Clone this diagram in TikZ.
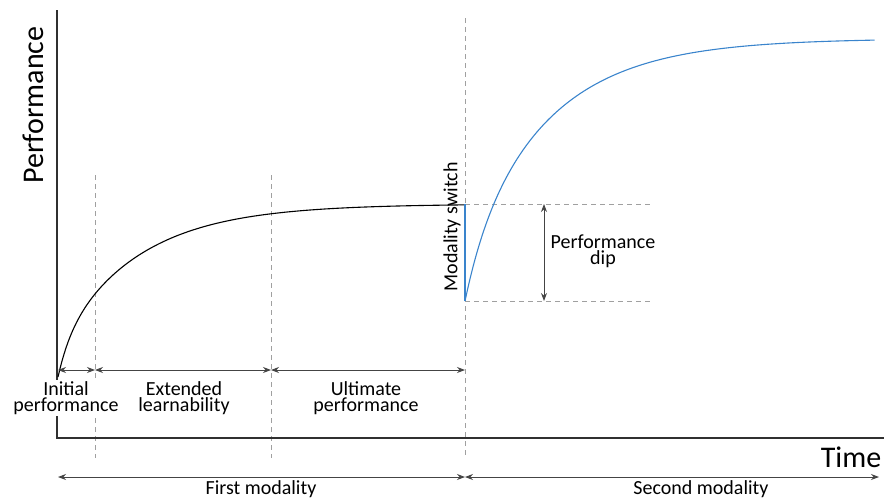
\documentclass[tikz,border=0pt]{standalone}
\usepackage{fontspec}
\setmainfont{Carlito}
\usetikzlibrary{arrows.meta}
\definecolor{axisgray}{HTML}{303030}
\definecolor{arrgray}{HTML}{444444}
\definecolor{dashgray}{HTML}{A0A0A0}
\definecolor{curveblue}{HTML}{3A84CC}
\tikzset{
  axisline/.style={draw=axisgray, line width=1.1pt},
  guide/.style={draw=dashgray, dashed, dash pattern=on 5pt off 4pt, line width=0.9pt},
  dimarrow/.style={draw=arrgray, line width=0.9pt, {Stealth[length=8pt,width=6pt]}-{Stealth[length=8pt,width=6pt]}},
  lbl/.style={font=\fontsize{20}{16.5}\selectfont, align=center, inner sep=1pt},
  big/.style={font=\fontsize{30}{30}\selectfont, inner sep=0pt},
}
\begin{document}
\begin{tikzpicture}[x=1pt,y=-1pt]
\useasboundingbox (0,0) rectangle (884,499);
% coordinates
\coordinate (ytop) at (57,10);
\coordinate (origin) at (57,438);
\coordinate (xend) at (884,438);
\coordinate (d1t) at (95,175); \coordinate (d1b) at (95,458);
\coordinate (d2t) at (271,175); \coordinate (d2b) at (271,458);
\coordinate (d3t) at (465,18); \coordinate (d3b) at (465,458);
\coordinate (a0) at (58,370); \coordinate (a1) at (95,370);
\coordinate (a2) at (271,370); \coordinate (a3) at (465,370);
\coordinate (b0) at (58,477); \coordinate (b1) at (465,477); \coordinate (b2) at (879,477);
\coordinate (h1s) at (465,204); \coordinate (h1e) at (652,204);
\coordinate (h2s) at (465,301); \coordinate (h2e) at (652,301);
\coordinate (dipT) at (544,204); \coordinate (dipB) at (544,301);
% dashed guides
\draw[guide] (d1t) -- (d1b);
\draw[guide] (d2t) -- (d2b);
\draw[guide] (d3t) -- (d3b);
\draw[guide] (h1s) -- (h1e);
\draw[guide] (h2s) -- (h2e);
% axes
\draw[axisline] (ytop) -- (origin) -- (xend);
% curves
\draw[line width=1.1pt, black] plot[domain=0:1, samples=200]
  ({58+407*\x},{204+32.5*exp(-33.78*\x)+140.5*exp(-5.09*\x)});
\draw[line width=1.1pt, curveblue] (h1s) -- (h2s);
\draw[line width=1.1pt, curveblue] plot[domain=0:1, samples=200]
  ({465+410*\x},{38.5+44*exp(-20.09*\x)+218.6*exp(-4.92*\x)});
% dimension arrows
\draw[dimarrow] (a0) -- (a1);
\draw[dimarrow] (a1) -- (a2);
\draw[dimarrow] (a2) -- (a3);
\draw[dimarrow] (b0) -- (b1);
\draw[dimarrow] (b1) -- (b2);
\draw[dimarrow] (dipT) -- (dipB);
% labels
\node[lbl, fill=white] (init) at (66,398) {Initial\\performance};
\node[lbl] (ext) at (184,398) {Extended\\learnability};
\node[lbl] (ult) at (366,398) {Ultimate\\performance};
\node[lbl] (first) at (261,489) {First modality};
\node[lbl] (second) at (701,489) {Second modality};
\node[lbl] (dip) at (603,251) {Performance\\dip};
\node[lbl, rotate=90] (switch) at (452,227) {Modality switch};
\node[big] (time) at (851,457) {Time};
\node[big, rotate=90] (perf) at (33,105) {Performance};
\end{tikzpicture}
\end{document}
